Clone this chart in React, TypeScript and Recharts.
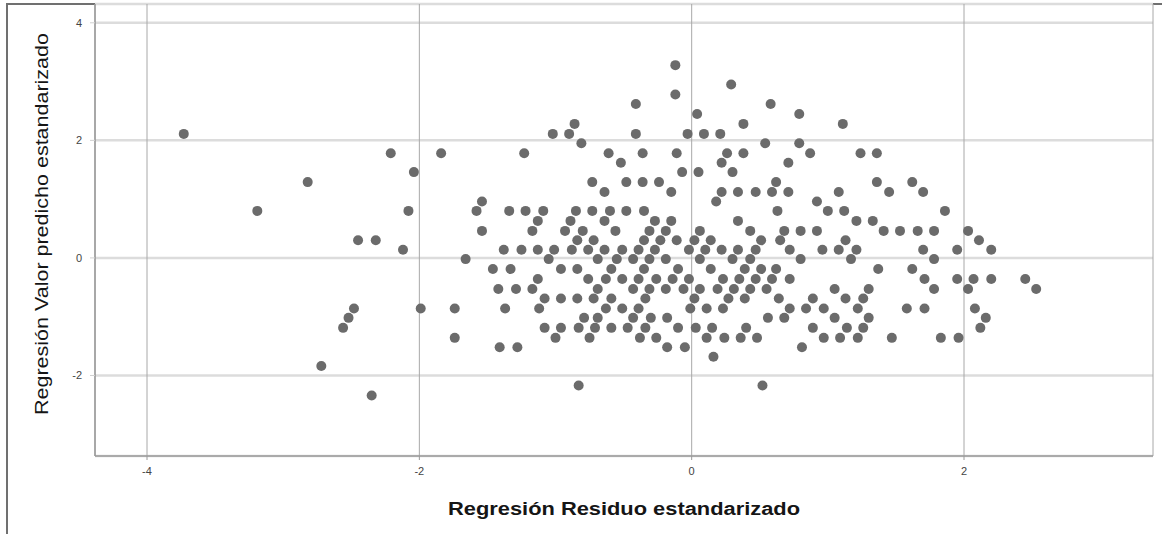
import { CartesianGrid, Label, Scatter, ScatterChart, XAxis, YAxis } from "recharts";

// predicted values sit on discrete levels; each level lists the residuals
const predictedLevels = [
  3.28, 2.95, 2.78, 2.62, 2.45, 2.28, 2.11, 1.95, 1.78, 1.62, 1.46, 1.29, 1.12, 0.96, 0.8, 0.63, 0.46, 0.3,
  0.14, -0.02, -0.19, -0.36, -0.53, -0.69, -0.86, -1.02, -1.19, -1.36, -1.52, -1.68, -1.84, -2.17, -2.34,
];

const residualsByLevel: number[][] = [
  [-0.12],
  [0.29],
  [-0.12],
  [-0.41, 0.58],
  [0.04, 0.79],
  [-0.86, 0.38, 1.11],
  [-3.73, -1.02, -0.9, -0.41, -0.03, 0.09, 0.21],
  [-0.81, 0.54, 0.79],
  [-2.21, -1.84, -1.23, -0.61, -0.36, -0.11, 0.26, 0.38, 0.87, 1.24, 1.36],
  [-0.52, 0.22, 0.71],
  [-2.04, -0.07, 0.05, 0.3],
  [-2.82, -0.73, -0.48, -0.36, -0.24, 0.62, 1.36, 1.62],
  [-0.64, -0.15, 0.22, 0.34, 0.47, 0.59, 0.71, 1.08, 1.45, 1.7],
  [-1.54, 0.18, 0.92],
  [-3.19, -2.08, -1.58, -1.34, -1.22, -1.09, -0.85, -0.73, -0.6, -0.48, -0.35, 0.63, 1.0, 1.12, 1.86],
  [-1.13, -0.89, -0.64, -0.27, -0.15, 0.34, 1.21, 1.33],
  [-1.54, -1.17, -0.93, -0.8, -0.56, -0.31, -0.19, 0.06, 0.43, 0.68, 0.8, 0.92, 1.41, 1.53, 1.66, 1.78, 2.03],
  [-2.45, -2.32, -0.84, -0.72, -0.35, -0.23, -0.11, 0.02, 0.14, 0.51, 0.65, 1.13, 2.11],
  [-2.12, -1.38, -1.25, -1.13, -1.01, -0.88, -0.76, -0.64, -0.51, -0.39, -0.27, -0.02, 0.1, 0.22, 0.34, 0.47, 0.72, 0.96, 1.08, 1.21, 1.7, 1.95, 2.2],
  [-1.66, -1.05, -0.69, -0.55, -0.43, -0.31, -0.19, 0.06, 0.3, 0.43, 0.8, 1.17, 1.78],
  [-1.46, -1.33, -0.96, -0.84, -0.59, -0.35, -0.1, 0.14, 0.39, 0.51, 0.62, 1.37, 1.62],
  [-1.13, -0.76, -0.63, -0.51, -0.39, -0.26, -0.14, -0.02, 0.23, 0.35, 0.47, 0.59, 0.72, 1.71, 1.95, 2.07, 2.2, 2.45],
  [-1.42, -1.29, -1.17, -0.69, -0.43, -0.31, -0.19, -0.06, 0.06, 0.19, 0.31, 0.43, 0.55, 1.05, 1.3, 1.78, 2.03, 2.53],
  [-1.08, -0.96, -0.84, -0.72, -0.59, -0.34, 0.02, 0.27, 0.39, 0.64, 0.89, 1.13, 1.26],
  [-2.48, -1.99, -1.74, -1.37, -1.12, -0.63, -0.51, -0.39, -0.01, 0.11, 0.23, 0.72, 0.84, 0.97, 1.22, 1.58, 1.71, 2.08],
  [-2.52, -0.79, -0.69, -0.43, -0.3, -0.18, 0.56, 0.68, 1.05, 1.3, 2.16],
  [-2.56, -1.08, -0.96, -0.83, -0.71, -0.59, -0.47, -0.34, -0.1, 0.03, 0.15, 0.4, 0.89, 1.14, 1.26, 2.12],
  [-1.74, -1.0, -0.75, -0.38, -0.26, 0.11, 0.24, 0.36, 0.48, 0.97, 1.09, 1.22, 1.47, 1.83, 1.96],
  [-1.41, -1.28, -0.18, -0.05, 0.81],
  [0.16],
  [-2.72],
  [-0.83, 0.52],
  [-2.35],
];

const xTicks = [-4, -2, 0, 2];
const yTicks = [-2, 0, 2, 4];
const xTitle = "Regresión Residuo estandarizado";
const yTitle = "Regresión Valor predicho estandarizado";

const points = predictedLevels.flatMap((y, i) => residualsByLevel[i].map((x) => ({ x, y })));

const font = "'Liberation Sans', Arial, sans-serif";
const tickStyle = { fontSize: 11, fill: "#444", fontFamily: font };

const Dot = (p: any) => <circle cx={p.cx} cy={p.cy} r={5} fill="#6b6b6b" />;

// the source screenshot is stretched, so titles are fitted to the measured length
const XTitle = (p: any) => {
  const vb = p.viewBox || { x: 95, y: 456, width: 1058, height: 30 };
  return (
    <text
      x={vb.x + vb.width / 2}
      y={vb.y + 59}
      textAnchor="middle"
      fontFamily={font}
      fontSize={18}
      fontWeight="bold"
      textLength={352}
      lengthAdjust="spacingAndGlyphs"
      fill="#151515"
    >
      {xTitle}
    </text>
  );
};

const YTitle = (p: any) => {
  const vb = p.viewBox || { x: 65, y: 4, width: 30, height: 452 };
  const cx = vb.x - 17;
  const cy = vb.y + vb.height / 2 - 6;
  return (
    <text
      x={cx}
      y={cy}
      transform={`rotate(-90 ${cx} ${cy})`}
      textAnchor="middle"
      fontFamily={font}
      fontSize={18}
      textLength={382}
      lengthAdjust="spacingAndGlyphs"
      fill="#151515"
    >
      {yTitle}
    </text>
  );
};

export default function App() {
  return (
    <div style={{ position: "absolute", left: 0, top: 0, width: 1162, height: 534, background: "#fff" }}>
      <div
        style={{
          position: "absolute",
          left: 6,
          top: 3,
          right: 0,
          bottom: 0,
          borderTop: "2px solid #707070",
          borderLeft: "2px solid #707070",
        }}
      />
      <div style={{ position: "absolute", left: 0, top: 0 }}>
        <ScatterChart width={1162} height={534} margin={{ top: 4, right: 9, bottom: 48, left: 65 }}>
          <CartesianGrid vertical={false} stroke="#dcdcdc" strokeWidth={2.5} />
          <CartesianGrid horizontal={false} stroke="#a8a8a8" strokeWidth={1} />
          <XAxis
            type="number"
            dataKey="x"
            domain={[-4.382, 3.388]}
            ticks={xTicks}
            allowDataOverflow
            height={30}
            tickSize={4}
            tickMargin={7}
            tick={tickStyle}
            axisLine={{ stroke: "#9a9a9a", strokeWidth: 1.5 }}
            tickLine={{ stroke: "#9a9a9a" }}
          >
            <Label content={XTitle} />
          </XAxis>
          <YAxis
            type="number"
            dataKey="y"
            domain={[-3.37, 4.32]}
            ticks={yTicks}
            allowDataOverflow
            width={30}
            tickSize={5}
            tickMargin={8}
            tick={tickStyle}
            axisLine={{ stroke: "#9a9a9a", strokeWidth: 1.5 }}
            tickLine={{ stroke: "#d0d0d0" }}
          >
            <Label content={YTitle} />
          </YAxis>
          <Scatter data={points} shape={Dot} isAnimationActive={false} />
        </ScatterChart>
      </div>
    </div>
  );
}
